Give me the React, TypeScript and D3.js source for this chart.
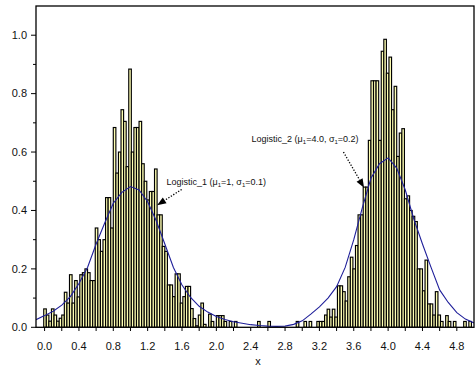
import React from 'react';
import * as d3 from 'd3';

// histogram: bin left edges start at BIN_START, each BIN_WIDTH wide
const BIN_START = -0.01;
const BIN_WIDTH = 0.03;
const binHeights = [
  0.063, 0.042, 0.021, 0.063, 0.042, 0.021, 0.031, 0.042, 0.12, 0.083,
  0.18, 0.083, 0.16, 0.104, 0.18, 0.187, 0.2, 0.187, 0.16, 0.16,
  0.34, 0.3, 0.26, 0.3, 0.444, 0.444, 0.34, 0.684, 0.528, 0.6,
  0.745, 0.705, 0.55, 0.884, 0.6, 0.684, 0.684, 0.705, 0.56, 0.5,
  0.436, 0.465, 0.465, 0.542, 0.385, 0.385, 0.277, 0.26, 0.145, 0.145,
  0.105, 0.183, 0.183, 0.083, 0.105, 0.14, 0.14, 0.064, 0.03, 0.005,
  0.042, 0.083, 0.01, 0, 0.045, 0.02, 0, 0.04, 0.04, 0.04,
  0.02, 0, 0.02, 0, 0.02, 0, 0, 0, 0, 0,
  0, 0, 0, 0.02, 0, 0, 0, 0.02, 0, 0,
  0, 0, 0, 0, 0, 0, 0, 0, 0.02, 0,
  0, 0.02, 0, 0.02, 0, 0, 0.02, 0.02, 0.02, 0.042,
  0.062, 0.035, 0.062, 0.035, 0.142, 0.142, 0.122, 0.09, 0.173, 0.24,
  0.2, 0.28, 0.385, 0.385, 0.48, 0.48, 0.64, 0.844, 0.844, 0.844,
  0.64, 0.945, 0.986, 0.87, 0.925, 0.745, 0.825, 0.585, 0.665, 0.68,
  0.44, 0.45, 0.4, 0.38, 0.362, 0.2, 0.2, 0.125, 0.23, 0.08,
  0.08, 0.042, 0.122, 0.042, 0.02, 0, 0.04, 0.02, 0, 0.02,
  0, 0, 0, 0.02, 0, 0.02, 0,
];

// fitted curve
const curveX = [
  -0.1, 0.0, 0.1, 0.2, 0.3, 0.4, 0.5, 0.6, 0.7, 0.8, 0.9, 1.0, 1.1, 1.2, 1.3,
  1.4, 1.5, 1.6, 1.7, 1.8, 1.9, 2.0, 2.1, 2.2, 2.3, 2.4, 2.5, 2.6, 2.7, 2.8,
  2.9, 3.0, 3.1, 3.2, 3.3, 3.4, 3.5, 3.6, 3.7, 3.8, 3.9, 4.0, 4.1, 4.2, 4.3,
  4.4, 4.5, 4.6, 4.7, 4.8, 4.9, 5.0,
];
const curveY = [
  0.026, 0.04, 0.055, 0.076, 0.105, 0.15, 0.205, 0.285, 0.357, 0.425, 0.462, 0.482, 0.47, 0.43, 0.365,
  0.285, 0.205, 0.145, 0.102, 0.072, 0.052, 0.037, 0.027, 0.019, 0.014, 0.009, 0.006, 0.004, 0.003, 0.004,
  0.01, 0.022, 0.045, 0.07, 0.1, 0.139, 0.205, 0.3, 0.41, 0.51, 0.56, 0.58, 0.545, 0.47, 0.37,
  0.285, 0.205, 0.128, 0.085, 0.05, 0.028, 0.015,
];

const xTickLabels = ['0.0', '0.4', '0.8', '1.2', '1.6', '2.0', '2.4', '2.8', '3.2', '3.6', '4.0', '4.4', '4.8'];
const yTickLabels = ['0.0', '0.2', '0.4', '0.6', '0.8', '1.0'];

const W = 475;
const H = 372;
const FONT = 'Arial, "Liberation Sans", sans-serif';

const App: React.FC = () => {
  const xs = d3.scaleLinear().domain([-0.1, 5.0]).range([36, 474]);
  const ys = d3.scaleLinear().domain([0, 1.1]).range([327.3, 6]);
  const bw = xs(BIN_WIDTH) - xs(0);

  const line = d3.line<number>()
    .x((_, i) => xs(curveX[i]))
    .y(d => ys(d));

  const xMinor = d3.range(0, 5.0, 0.2);
  const yMinor = d3.range(0.1, 1.1, 0.2);

  // annotations in data units
  const ann1 = { tx: 1.42, ty: 0.486, from: [1.596, 0.472], to: [1.31, 0.418] };
  const ann2 = { tx: 2.41, ty: 0.635, from: [3.48, 0.6], to: [3.72, 0.478] };

  const arrow = (from: number[], to: number[]) => {
    const x1 = xs(from[0]), y1 = ys(from[1]);
    const x2 = xs(to[0]), y2 = ys(to[1]);
    const a = Math.atan2(y2 - y1, x2 - x1);
    const len = 9, half = 3.5;
    const bx = x2 - len * Math.cos(a), by = y2 - len * Math.sin(a);
    const p1 = [bx + half * Math.sin(a), by - half * Math.cos(a)];
    const p2 = [bx - half * Math.sin(a), by + half * Math.cos(a)];
    return (
      <g>
        <line x1={x1} y1={y1} x2={bx} y2={by} stroke="#000" strokeWidth={1.3} strokeDasharray="1.3,1.6" />
        <polygon points={`${x2},${y2} ${p1[0]},${p1[1]} ${p2[0]},${p2[1]}`} fill="#000" />
      </g>
    );
  };

  return (
    <div style={{ position: 'fixed', left: 0, top: 0 }}>
      <svg width={W} height={H} style={{ display: 'block', background: '#fff' }} fontFamily={FONT}>
        <defs>
          <clipPath id="plot">
            <rect x={36} y={6} width={438} height={321.3} />
          </clipPath>
        </defs>
        <g clipPath="url(#plot)">
          {binHeights.map((v, i) => v > 0 && (
            <rect
              key={i}
              x={xs(BIN_START + i * BIN_WIDTH)}
              y={ys(v)}
              width={bw}
              height={ys(0) - ys(v)}
              fill="#FFFFB4"
              stroke="#000"
              strokeWidth={1.15}
            />
          ))}
          <path d={line(curveY) || ''} fill="none" stroke="#1f1f9a" strokeWidth={1.1} />
        </g>

        {/* frame */}
        <rect x={36} y={6} width={438} height={321.3} fill="none" stroke="#000" strokeWidth={1.3} />

        {/* y axis ticks */}
        {yTickLabels.map(t => (
          <g key={t}>
            <line x1={31} x2={36} y1={ys(+t)} y2={ys(+t)} stroke="#000" strokeWidth={1} />
            <text x={27} y={ys(+t)} dy="0.35em" textAnchor="end" fontSize={11} fill="#111">{t}</text>
          </g>
        ))}
        {yMinor.map(v => (
          <line key={v} x1={33} x2={36} y1={ys(v)} y2={ys(v)} stroke="#000" strokeWidth={1} />
        ))}

        {/* x axis ticks */}
        {xMinor.map(v => (
          <line key={v} x1={xs(v)} x2={xs(v)} y1={327.3} y2={331} stroke="#000" strokeWidth={1} />
        ))}
        {xTickLabels.map(t => (
          <text key={t} x={xs(+t)} y={350} textAnchor="middle" fontSize={11} fill="#111">{t}</text>
        ))}
        <text x={258} y={365} textAnchor="middle" fontSize={11} fill="#111">x</text>

        {/* annotations */}
        <text x={xs(ann1.tx)} y={ys(ann1.ty)} fontSize={9} fill="#111">
          Logistic_1 (μ<tspan fontSize={6} dy={2}>1</tspan><tspan dy={-2}>=1, σ</tspan>
          <tspan fontSize={6} dy={2}>1</tspan><tspan dy={-2}>=0.1)</tspan>
        </text>
        {arrow(ann1.from, ann1.to)}
        <text x={xs(ann2.tx)} y={ys(ann2.ty)} fontSize={9} fill="#111">
          Logistic_2 (μ<tspan fontSize={6} dy={2}>1</tspan><tspan dy={-2}>=4.0, σ</tspan>
          <tspan fontSize={6} dy={2}>1</tspan><tspan dy={-2}>=0.2)</tspan>
        </text>
        {arrow(ann2.from, ann2.to)}
      </svg>
    </div>
  );
};

export default App;
